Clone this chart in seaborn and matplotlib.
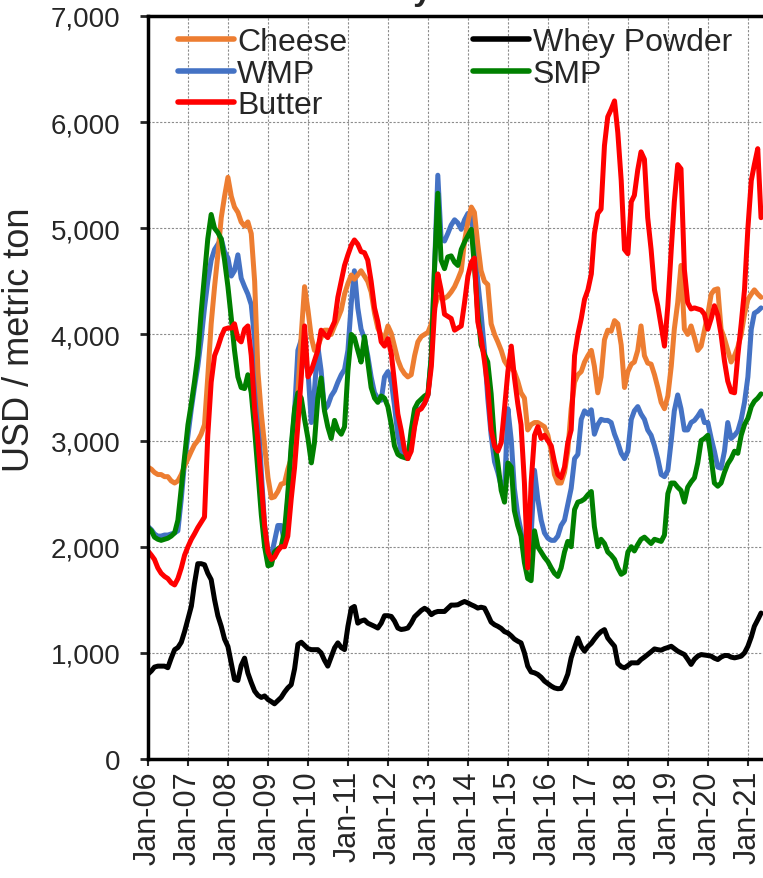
import numpy as np
import pandas as pd
import matplotlib
matplotlib.use("Agg")
import matplotlib.pyplot as plt
import matplotlib.dates as mdates
from matplotlib.lines import Line2D
from matplotlib.ticker import FuncFormatter
import seaborn as sns

# monthly prices, Jan-06 .. May-21 (USD / metric ton)
months = pd.date_range("2006-01-01", periods=185, freq="MS")

cheese = [2750, 2730, 2700, 2680, 2680, 2660, 2660, 2620, 2600, 2620, 2680, 2760,
          2830, 2900, 2960, 3000, 3060, 3150, 3600, 4100, 4450, 4750, 5100, 5300,
          5480, 5300, 5200, 5150, 5060, 5020, 5060, 4950, 4500, 3650, 3250, 2950,
          2650, 2460, 2470, 2520, 2590, 2600, 2730, 2830, 3100, 3450, 4000, 4450,
          4230, 3970, 3850, 3890, 3970, 4040, 4040, 4000, 4080, 4150, 4230, 4380,
          4480, 4560, 4520, 4560, 4600, 4550, 4500, 4400, 4200, 4060, 3990, 3960,
          4080, 4010, 3890, 3760, 3680, 3630, 3600, 3620, 3800, 3930, 3980, 4000,
          4020, 4100, 4250, 4350, 4350, 4340, 4360, 4400, 4450, 4520, 4600, 4880,
          5060, 5200, 5150, 4850, 4600, 4500, 4470, 4100, 4000, 3930, 3850, 3750,
          3700, 3680, 3650, 3560, 3450, 3400, 3100, 3150, 3170, 3170, 3150, 3130,
          3050, 2900, 2680, 2600, 2600, 2700, 2900, 3300, 3550, 3620, 3650, 3740,
          3800, 3850, 3700, 3450, 3600, 3950, 4040, 4030, 4130, 4100, 3900, 3500,
          3650, 3720, 3740, 3850, 4080, 3800, 3730, 3720, 3620, 3500, 3360, 3300,
          3420, 3700, 4050, 4300, 4650, 4050, 4000, 4080, 3970, 3850, 3890, 4040,
          4190, 4380, 4420, 4430, 4050, 3960, 3850, 3740, 3800, 3880, 4000, 4190,
          4330, 4380, 4420, 4380, 4350]

wmp = [2190, 2160, 2120, 2100, 2100, 2110, 2110, 2120, 2130, 2150, 2450, 2800,
       3050, 3300, 3500, 3700, 3950, 4250, 4500, 4700, 4800, 4850, 4900, 4780,
       4720, 4550, 4600, 4750, 4530, 4450, 4380, 4280, 3950, 3300, 2700, 2200,
       1950, 1920, 2050, 2200, 2200, 2040, 2450, 2900, 3280, 3850, 3950, 3750,
       3660, 3170, 3470, 3890, 3660, 3290, 3330, 3420, 3470, 3550, 3620, 3670,
       3850, 4300, 4600, 4250, 4050, 3960, 3800, 3600, 3450, 3400, 3380, 3600,
       3650, 3560, 3330, 3050, 2900, 2870, 2880, 2950, 3150, 3280, 3310, 3350,
       3430, 3800, 4600, 5500, 4900, 4880, 4950, 5030, 5080, 5050, 4990, 5080,
       5140, 5120, 4880, 4500, 4200, 3850, 3400, 3050, 2800, 2700, 2570, 2530,
       3300, 3000, 2550, 2300, 2150, 1900, 1950, 2100, 2720, 2450, 2250, 2130,
       2080, 2060, 2060, 2100, 2200, 2250, 2400, 2550, 2830, 2870, 3200, 3280,
       3250, 3290, 3060, 3150, 3200, 3190, 3190, 3170, 3060, 2980, 2880, 2830,
       2900, 3200, 3280, 3320, 3250, 3200, 3100, 3050, 2950, 2830, 2680, 2660,
       2720, 3000, 3280, 3430, 3300, 3100, 3100, 3170, 3190, 3230, 3280, 3170,
       3170, 3020, 2900, 2750, 2740, 2900, 3170, 3020, 3050, 3090, 3200, 3360,
       3600, 4050, 4200, 4220, 4250]

smp = [2180, 2150, 2090, 2070, 2060, 2070, 2080, 2100, 2130, 2250, 2550, 2850,
       3150, 3350, 3550, 3800, 4200, 4550, 4900, 5130, 5000, 4960, 4900, 4700,
       4450, 4150, 3850, 3600, 3500, 3490, 3620, 3450, 3100, 2700, 2300, 2000,
       1820, 1830, 1950, 1980, 2000, 2150, 2500, 2950, 3300, 3450, 3400, 3200,
       3020, 2790, 2980, 3400, 3590, 3280, 3130, 3020, 3190, 3100, 3060, 3130,
       3660, 4000, 3970, 3850, 3740, 3980, 3740, 3500, 3400, 3360, 3420, 3400,
       3320, 3150, 2950, 2870, 2850, 2840, 2830, 3100, 3300, 3360, 3390, 3420,
       3440, 3800, 4600, 5330, 4700, 4620, 4730, 4740, 4680, 4650, 4800, 4870,
       4930, 4990, 4650, 4200, 3900, 3810, 3740, 3440, 2980, 2790, 2530, 2420,
       2790, 2750, 2340, 2200, 2100, 1850, 1700, 1680, 2150, 2000, 1950, 1900,
       1860, 1800, 1750, 1720, 1800, 1950, 2050, 2000, 2350, 2420, 2430, 2450,
       2490, 2520, 2190, 2000, 2070, 2030, 1950, 1920, 1880, 1800, 1740, 1760,
       1950, 2000, 1960, 2020, 2070, 2090, 2060, 2030, 2070, 2060, 2050, 2110,
       2500, 2600, 2600, 2560, 2530, 2420, 2560, 2610, 2650, 2790, 3000, 3020,
       3050, 2830, 2600, 2570, 2600, 2700, 2780, 2830, 2900, 2880, 3050, 3150,
       3210, 3320, 3370, 3400, 3440]

butter = [1960, 1920, 1880, 1800, 1750, 1720, 1700, 1660, 1640, 1700, 1800, 1920,
          2000, 2070, 2120, 2180, 2230, 2280, 3050, 3550, 3800, 3880, 3980, 4050,
          4060, 4060, 4100, 3960, 3930, 4050, 4080, 3800, 3300, 3000, 2600, 2200,
          1950, 1880, 1900, 1960, 2000, 2000, 2100, 2450, 2750, 3150, 3600, 4080,
          3600, 3660, 3750, 3850, 4040, 4000, 3970, 4050, 4120, 4350, 4500, 4650,
          4750, 4840, 4890, 4850, 4780, 4770, 4700, 4500, 4250, 4120, 3930, 3890,
          3960, 3820, 3550, 3250, 3100, 2910, 2830, 2900, 3130, 3280, 3300, 3350,
          3430, 3700, 4200, 4570, 4420, 4190, 4170, 4150, 4040, 4060, 4080, 4300,
          4550, 4680, 4720, 4120, 3970, 3750, 3500, 3100, 2950, 2900, 2980, 3300,
          3650, 3890, 3600, 3350, 3150, 2600, 1800, 2600, 3050, 3130, 3020, 3050,
          3000, 2950, 2800, 2680, 2650, 2750, 2980, 3100, 3800, 4000, 4150, 4330,
          4420, 4570, 4950, 5140, 5180, 5780, 6050, 6120, 6200, 5900, 5450, 4800,
          4760, 5250, 5310, 5550, 5720, 5650, 5100, 4800, 4420, 4270, 4080, 3890,
          4270, 4800, 5250, 5600, 5560, 4610, 4300, 4240, 4250, 4240, 4230, 4190,
          4050, 4150, 4270, 4180, 4000, 3750, 3560, 3460, 3450, 3800, 4100, 4420,
          5000, 5450, 5600, 5750, 5100]

whey = [800, 830, 866, 875, 875, 875, 860, 950, 1030, 1050, 1100, 1200,
        1320, 1440, 1650, 1840, 1840, 1830, 1750, 1690, 1500, 1350, 1250, 1130,
        1060, 900, 750, 740, 880, 950, 810, 720, 640, 600, 580, 594,
        560, 540, 520, 550, 580, 630, 670, 700, 850, 1080, 1100, 1070,
        1040, 1030, 1030, 1030, 1000, 930, 875, 960, 1047, 1094, 1050, 1031,
        1250, 1420, 1437, 1280, 1300, 1310, 1280, 1265, 1250, 1234, 1280, 1350,
        1350, 1343, 1300, 1234, 1220, 1225, 1234, 1280, 1340, 1370, 1400, 1420,
        1400, 1360, 1380, 1390, 1390, 1390, 1420, 1450, 1450, 1453, 1470, 1484,
        1470, 1453, 1440, 1422, 1430, 1422, 1360, 1290, 1265, 1250, 1230, 1200,
        1187, 1160, 1130, 1110, 1094, 1000, 875, 820, 812, 797, 770, 734,
        710, 687, 670, 662, 665, 720, 800, 953, 1050, 1140, 1060, 1016,
        1060, 1090, 1130, 1170, 1200, 1219, 1140, 1100, 1062, 900, 870, 859,
        880, 906, 906, 906, 937, 960, 984, 1010, 1037, 1030, 1025, 1040,
        1050, 1062, 1040, 1016, 1000, 984, 940, 891, 940, 969, 984, 980,
        975, 969, 950, 937, 960, 975, 975, 960, 953, 960, 969, 1000,
        1062, 1150, 1250, 1312, 1375]

colors = {"Cheese": "#ED7D31", "WMP": "#4472C4", "SMP": "#008000",
          "Butter": "#FF0000", "Whey Powder": "#000000"}
draw_order = ["WMP", "Cheese", "SMP", "Butter", "Whey Powder"]
legend_order = ["Cheese", "WMP", "Butter", "Whey Powder", "SMP"]

df = pd.DataFrame({"date": months, "Cheese": cheese, "WMP": wmp, "SMP": smp,
                   "Butter": butter, "Whey Powder": whey})
long = df.melt(id_vars="date", var_name="product", value_name="price")

sns.set_style("white")
plt.rcParams["font.family"] = ["Liberation Sans", "DejaVu Sans"]

fig = plt.figure(figsize=(7.63, 8.79), dpi=100)
ax = fig.add_axes([148 / 763, 119 / 879, 1 - 148 / 763, 743 / 879])

sns.lineplot(data=long, x="date", y="price", hue="product", hue_order=draw_order,
             palette=colors, linewidth=3.6, ax=ax, legend=False)

ax.set_xlim(pd.Timestamp("2006-01-01"), pd.Timestamp("2006-01-01") + pd.Timedelta(days=5617))
ax.set_ylim(0, 7000)
ax.set_yticks(range(0, 7001, 1000))
ax.yaxis.set_major_formatter(FuncFormatter(lambda v, p: f"{int(v):,}"))
ax.xaxis.set_major_locator(mdates.YearLocator())
ax.xaxis.set_major_formatter(mdates.DateFormatter("%b-%y"))

ax.grid(True, color="#8c8c8c", linestyle=(0, (2, 1.5)), linewidth=0.8)
for s in ["left", "bottom", "top"]:
    ax.spines[s].set_linewidth(2.5)
    ax.spines[s].set_color("black")
ax.spines["right"].set_visible(False)

ax.tick_params(axis="y", direction="out", length=6, width=2, pad=14, labelsize=20, left=True)
ax.tick_params(axis="x", direction="out", length=5, width=1.5, pad=3, labelsize=22,
               labelrotation=90, bottom=True)
ax.set_xlabel("")
ax.set_ylabel("USD / metric ton", fontsize=26)
ax.yaxis.set_label_coords(-0.180, 0.565)

handles = [Line2D([0], [0], color=colors[n], linewidth=4) for n in legend_order]
ax.legend(handles, legend_order, ncol=2, loc="upper left", bbox_to_anchor=(0.0488, 0.9846),
          frameon=False, fontsize=23, handlelength=1.75, handletextpad=0.1,
          columnspacing=3.95, labelspacing=0.04, borderpad=0, borderaxespad=0)

# chart title sits mostly above the visible area, as in the source image
fig.text(348 / 763, 1.0, "Dairy Prices", fontsize=24, fontweight="bold",
         ha="left", va="baseline")

fig.savefig("out.png", dpi=100)
